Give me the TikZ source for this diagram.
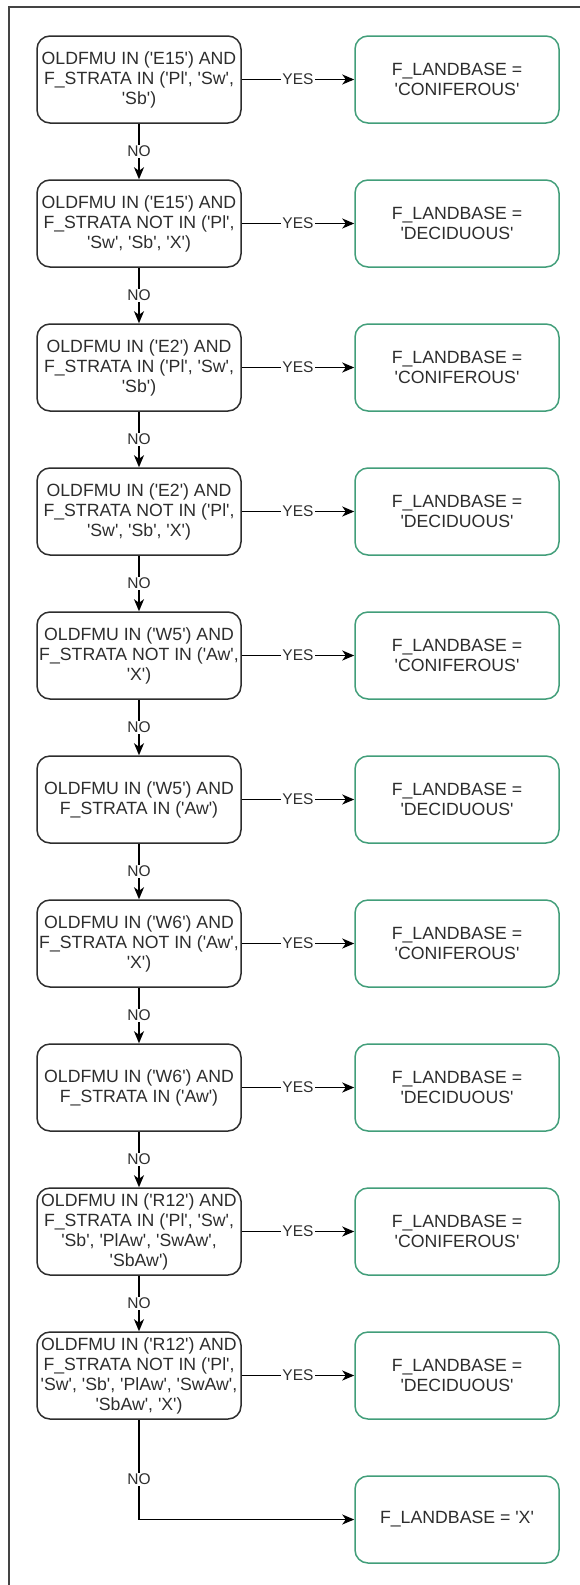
\documentclass[tikz,border=0pt]{standalone}
\usepackage{fontspec}
\newfontfamily\chartfont{Liberation Sans}
\usetikzlibrary{arrows.meta}

\definecolor{landgreen}{RGB}{66,158,122}
\definecolor{framegray}{RGB}{68,68,68}
\definecolor{inkgray}{RGB}{45,45,45}

\begin{document}
\begin{tikzpicture}[node distance=144pt,
    >={Stealth[length=12pt,width=10pt,inset=3.5pt]},
    cond/.style={draw=inkgray, line width=1.5pt, rounded corners=13pt,
        minimum width=204pt, minimum height=87pt, inner sep=0pt, align=center,
        text=inkgray, font=\chartfont\fontsize{17.7}{20}\selectfont},
    res/.style={cond, draw=landgreen},
    lbl/.style={fill=white, inner sep=1pt, text=inkgray,
        font=\chartfont\fontsize{15.5}{18}\selectfont},
    flow/.style={->, draw=black, line width=1.5pt}]

    \useasboundingbox (0,0) rectangle (580pt,-1585pt);
    \draw[framegray, line width=2pt] (9pt,-1585pt) |- (580pt,-7pt);

    % conditions
    \node[cond] (c1) at (139pt,-79.5pt) {OLDFMU IN ('E15') AND\\F\_STRATA IN ('Pl', 'Sw',\\'Sb')};
    \node[cond, below of=c1] (c2) {OLDFMU IN ('E15') AND\\F\_STRATA NOT IN ('Pl',\\'Sw', 'Sb', 'X')};
    \node[cond, below of=c2] (c3) {OLDFMU IN ('E2') AND\\F\_STRATA IN ('Pl', 'Sw',\\'Sb')};
    \node[cond, below of=c3] (c4) {OLDFMU IN ('E2') AND\\F\_STRATA NOT IN ('Pl',\\'Sw', 'Sb', 'X')};
    \node[cond, below of=c4] (c5) {OLDFMU IN ('W5') AND\\F\_STRATA NOT IN ('Aw',\\'X')};
    \node[cond, below of=c5] (c6) {OLDFMU IN ('W5') AND\\F\_STRATA IN ('Aw')};
    \node[cond, below of=c6] (c7) {OLDFMU IN ('W6') AND\\F\_STRATA NOT IN ('Aw',\\'X')};
    \node[cond, below of=c7] (c8) {OLDFMU IN ('W6') AND\\F\_STRATA IN ('Aw')};
    \node[cond, below of=c8] (c9) {OLDFMU IN ('R12') AND\\F\_STRATA IN ('Pl', 'Sw',\\'Sb', 'PlAw', 'SwAw',\\'SbAw')};
    \node[cond, below of=c9] (c10) {OLDFMU IN ('R12') AND\\F\_STRATA NOT IN ('Pl',\\'Sw', 'Sb', 'PlAw', 'SwAw',\\'SbAw', 'X')};

    % results
    \node[res, node distance=318pt, right of=c1] (r1) {F\_LANDBASE =\\'CONIFEROUS'};
    \node[res, node distance=318pt, right of=c2] (r2) {F\_LANDBASE =\\'DECIDUOUS'};
    \node[res, node distance=318pt, right of=c3] (r3) {F\_LANDBASE =\\'CONIFEROUS'};
    \node[res, node distance=318pt, right of=c4] (r4) {F\_LANDBASE =\\'DECIDUOUS'};
    \node[res, node distance=318pt, right of=c5] (r5) {F\_LANDBASE =\\'CONIFEROUS'};
    \node[res, node distance=318pt, right of=c6] (r6) {F\_LANDBASE =\\'DECIDUOUS'};
    \node[res, node distance=318pt, right of=c7] (r7) {F\_LANDBASE =\\'CONIFEROUS'};
    \node[res, node distance=318pt, right of=c8] (r8) {F\_LANDBASE =\\'DECIDUOUS'};
    \node[res, node distance=318pt, right of=c9] (r9) {F\_LANDBASE =\\'CONIFEROUS'};
    \node[res, node distance=318pt, right of=c10] (r10) {F\_LANDBASE =\\'DECIDUOUS'};
    \node[res, below of=r10] (rX) {F\_LANDBASE = 'X'};

    \path[flow]
    (c1) edge node[lbl] {YES} (r1)
    (c2) edge node[lbl] {YES} (r2)
    (c3) edge node[lbl] {YES} (r3)
    (c4) edge node[lbl] {YES} (r4)
    (c5) edge node[lbl] {YES} (r5)
    (c6) edge node[lbl] {YES} (r6)
    (c7) edge node[lbl] {YES} (r7)
    (c8) edge node[lbl] {YES} (r8)
    (c9) edge node[lbl] {YES} (r9)
    (c10) edge node[lbl] {YES} (r10);

    \path[flow]
    (c1) edge node[lbl] {NO} (c2)
    (c2) edge node[lbl] {NO} (c3)
    (c3) edge node[lbl] {NO} (c4)
    (c4) edge node[lbl] {NO} (c5)
    (c5) edge node[lbl] {NO} (c6)
    (c6) edge node[lbl] {NO} (c7)
    (c7) edge node[lbl] {NO} (c8)
    (c8) edge node[lbl] {NO} (c9)
    (c9) edge node[lbl] {NO} (c10);

    \draw[flow] (c10) |- node[lbl, pos=0.3] {NO} (rX);
\end{tikzpicture}
\end{document}
